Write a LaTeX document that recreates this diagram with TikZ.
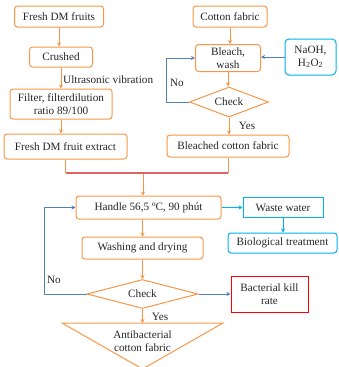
\documentclass[tikz,border=0pt]{standalone}
\usepackage{fontspec}
\setmainfont{Liberation Serif}
\usetikzlibrary{shapes.geometric,arrows.meta}

\definecolor{procorange}{RGB}{247,150,70}
\definecolor{linkblue}{RGB}{79,129,189}
\definecolor{watercyan}{RGB}{0,176,240}
\definecolor{joinred}{RGB}{222,100,100}

\begin{document}
\begin{tikzpicture}[x=1pt, y=-1pt,
    >={Stealth[length=4pt,width=4pt]},
    every node/.style={font=\fontsize{11.2}{12.5}\selectfont, text=black!85, inner sep=1pt},
    step box/.style={draw=procorange, line width=1pt, rounded corners=3pt, align=center},
    water box/.style={draw=watercyan, line width=1pt, align=center},
    check box/.style={diamond, draw=procorange, line width=1pt, aspect=2.6, inner sep=0pt},
    result box/.style={draw=red, line width=1pt, align=center},
    flow/.style={->, draw=procorange, line width=1pt},
    back/.style={->, draw=linkblue, line width=0.9pt},
    drain/.style={->, draw=watercyan, line width=0.9pt}]

\useasboundingbox (0,0) rectangle (338,367);

% extract branch
\node[step box, minimum width=89pt, minimum height=21pt] (fruits) at (59,16.5) {Fresh DM fruits};
\node[step box, minimum width=63pt, minimum height=20pt] (crushed) at (61,57) {Crushed};
\node[step box, minimum width=102pt, minimum height=30pt] (filter) at (61,104) {Filter, filterdilution\\ratio 89/100};
\node[step box, minimum width=123pt, minimum height=25pt] (extract) at (65.5,146.5) {Fresh DM fruit extract};

% fabric branch
\node[step box, minimum width=74pt, minimum height=21pt] (cotton) at (230,16.5) {Cotton fabric};
\node[step box, minimum width=65pt, minimum height=27pt] (bleach) at (228,58) {Bleach,\\wash};
\node[water box, rounded corners=4pt, minimum width=51pt, minimum height=36pt] (naoh) at (310.5,57) {NaOH,\\H\textsubscript{2}O\textsubscript{2}};
\node[check box, minimum width=79pt, minimum height=30pt] (check1) at (229,102) {Check};
\node[step box, minimum width=122pt, minimum height=22pt] (bleached) at (228,146) {Bleached cotton fabric};

% treatment
\node[step box, minimum width=145pt, minimum height=23pt] (handle) at (148.5,207.5) {Handle 56,5 ºC, 90 phút};
\node[step box, minimum width=121pt, minimum height=22pt] (washing) at (142.5,248) {Washing and drying};
\node[check box, minimum width=111pt, minimum height=29pt] (check2) at (142.5,294) {Check};
\node[water box, minimum width=80pt, minimum height=20pt] (waste) at (283,207.5) {Waste water};
\node[water box, rounded corners=3pt, minimum width=109pt, minimum height=20pt] (bio) at (282.5,243) {Biological treatment};
\node[result box, minimum width=77pt, minimum height=36pt] (kill) at (269.5,294) {Bacterial kill\\rate};

\coordinate (triL) at (62,323);
\coordinate (triR) at (223,323);
\coordinate (triB) at (142.5,369);
\draw[draw=procorange, line width=1pt] (triL) -- (triR) -- (triB) -- cycle;
\node[align=center] (product) at (142.5,341) {Antibacterial\\cotton fabric};

% connectors
\draw[flow] (fruits.south) -- (fruits.south |- crushed.north);
\draw[flow] (crushed.south) -- (crushed.south |- filter.north);
\node[anchor=west] (ultra) at (62,79.5) {Ultrasonic vibration};
\draw[flow] (filter.south) -- (filter.south |- extract.north);

\draw[flow] (cotton.south) -- (cotton.south |- bleach.north);
\draw[back] (naoh.west) -- (bleach.east |- naoh.west);
\draw[flow] (bleach.south) -- (bleach.south |- check1.north);
\coordinate (loopA) at (166,0);
\draw[back] (check1.west) -- (check1.west -| loopA) |- (bleach.west);
\node (noA) at (177,83) {No};
\draw[flow] (check1.south) -- (check1.south |- bleached.north);
\node (yesA) at (247,126) {Yes};

\coordinate (merge) at (143,173);
\draw[draw=procorange, line width=1pt] (extract.south) -- (extract.south |- merge);
\draw[draw=procorange, line width=1pt] (bleached.south) -- (bleached.south |- merge);
\draw[flow] (merge) -- (merge |- handle.north);
\draw[draw=joinred, line width=1.1pt] (extract.south |- merge) -- (bleached.south |- merge);

\draw[flow] (washing.north |- handle.south) -- (washing.north);
\draw[flow] (washing.south) -- (check2.north);
\draw[flow] (check2.south) -- (check2.south |- triL);
\node (yesB) at (160,317) {Yes};
\coordinate (loopB) at (44,0);
\draw[back] (check2.west) -- (check2.west -| loopB) |- (handle.west);
\node (noB) at (54,280) {No};

\draw[drain] (handle.east) -- (waste.west);
\draw[drain] (waste.south) -- (waste.south |- bio.north);
\draw[back] (check2.east) -- (kill.west);

\end{tikzpicture}
\end{document}
